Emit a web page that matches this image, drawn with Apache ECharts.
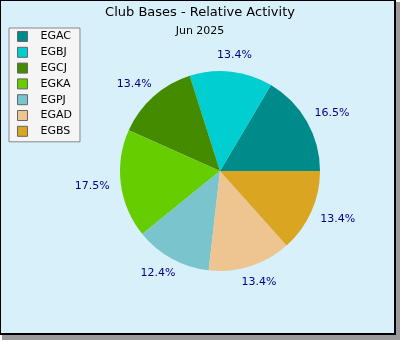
<!DOCTYPE html>
<html><head><meta charset="utf-8">
<script src="https://cdn.jsdelivr.net/npm/echarts@6/dist/echarts.min.js"></script>
<style>html,body{margin:0;padding:0;background:#fff}#c{width:400px;height:340px}</style>
</head><body><div id="c"></div>
<script>
const categories = ['EGAC','EGBJ','EGCJ','EGKA','EGPJ','EGAD','EGBS'];
const values = [16, 13, 13, 17, 12, 13, 13];
const colors = ['#008B8B','#00CED1','#458B00','#66CD00','#7AC5CD','#EEC591','#DAA520'];
const titleText = 'Club Bases - Relative Activity';
const subtitleText = 'Jun 2025';

const total = values.reduce((a,b)=>a+b,0);
const data = categories.map((n,i)=>({name:n, value:values[i], itemStyle:{color:colors[i]}}));
const font = 'DejaVu Sans';
const CX = 220, CY = 171, R = 100, LR = 108;
const chart = echarts.init(document.getElementById('c'), null, {renderer:'canvas'});
chart.setOption({
  animation:false,
  textStyle:{fontFamily:font},
  graphic:[
    {type:'rect', z:-10, silent:true, shape:{x:2,y:2,width:398,height:338}, style:{fill:'#9a9a9a'}},
    {type:'rect', z:-9, silent:true, shape:{x:0,y:0,width:396,height:335}, style:{fill:'#000'}},
    {type:'rect', z:-8, silent:true, shape:{x:1,y:1,width:393,height:332}, style:{fill:'#d7f0fa'}}
  ],
  title:{text:titleText, subtext:subtitleText, left:'center', top:1, itemGap:7,
    textStyle:{fontFamily:font, fontSize:13, fontWeight:'normal', color:'#000'},
    subtextStyle:{fontFamily:font, fontSize:11, color:'#000'}},
  legend:{orient:'vertical', left:9, top:28, padding:[3,8,5,8],
    backgroundColor:'#f5f5f5', borderColor:'#888', borderWidth:1,
    itemWidth:10, itemHeight:10, itemGap:4.8, icon:'rect',
    itemStyle:{borderColor:'#666', borderWidth:1},
    textStyle:{fontFamily:font, fontSize:11, color:'#000', lineHeight:10, padding:[0,0,0,8]},
    data:categories},
  series:[
    {type:'pie', center:[CX,CY], radius:[0,R], startAngle:0, clockwise:false,
     silent:true, data:data, label:{show:false}, labelLine:{show:false},
     itemStyle:{borderWidth:0}},
    {type:'pie', center:[CX,CY], radius:[0,2*LR], startAngle:0, clockwise:false,
     silent:true, z:5, data:categories.map((n,i)=>({name:n, value:values[i]})),
     itemStyle:{color:'rgba(0,0,0,0)', borderWidth:0},
     label:{show:true, position:'inside', fontFamily:font, fontSize:11, color:'#00008b',
       formatter:p=>(p.value/total*100).toFixed(1)+'%'},
     labelLine:{show:false},
     labelLayout:function(p){
       const r = p.labelRect;
       const cx = r.x + r.width/2, cy = r.y + r.height/2;
       const ux = (cx-CX)/LR, uy = (cy-CY)/LR;
       return {x: cx + ux*r.width/2, y: cy + uy*r.height/2, align:'center', verticalAlign:'middle'};
     }}
  ]
});
</script></body></html>
